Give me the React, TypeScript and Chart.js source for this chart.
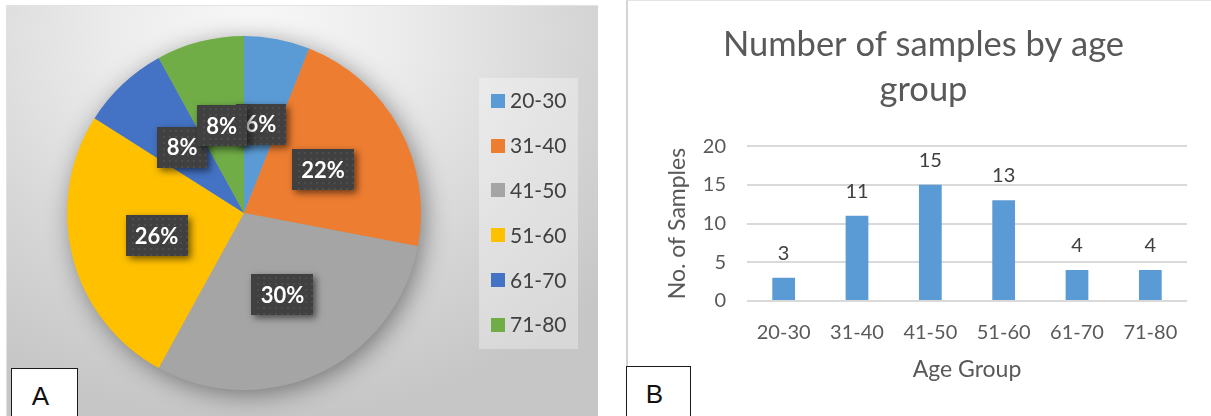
import React, { useEffect, useRef } from "react";
import { Chart, registerables } from "chart.js";

Chart.register(...registerables);

const categories = ["20-30", "31-40", "41-50", "51-60", "61-70", "71-80"];
const samples = [3, 11, 15, 13, 4, 4];
const sliceColors = ["#5B9BD5", "#ED7D31", "#A5A5A5", "#FFC000", "#4472C4", "#70AD47"];
const barColor = "#5B9BD5";
const yMin = 0;
const yMax = 20;
const yStep = 5;
const barTitle = ["Number of samples by age", "group"];
const xAxisTitle = "Age Group";
const yAxisTitle = "No. of Samples";
const panelLetters = ["A", "B"];

const FONT = "Lato, 'Open Sans', sans-serif";

const pieShadowAndLabels = {
  id: "pieShadowAndLabels",
  beforeDatasetsDraw(chart: any) {
    const meta = chart.getDatasetMeta(0);
    const arc = meta.data[0];
    if (!arc) return;
    const { x, y, outerRadius } = arc.getProps(["x", "y", "outerRadius"], true);
    const ctx = chart.ctx;
    ctx.save();
    ctx.shadowColor = "rgba(0,0,0,0.45)";
    ctx.shadowBlur = 26;
    ctx.shadowOffsetX = 4;
    ctx.shadowOffsetY = 5;
    ctx.beginPath();
    ctx.arc(x, y, outerRadius - 1, 0, Math.PI * 2);
    ctx.fillStyle = "#a0a0a0";
    ctx.fill();
    ctx.restore();
  },
  afterDatasetsDraw(chart: any) {
    const ctx = chart.ctx;
    const data = chart.data.datasets[0].data as number[];
    const total = data.reduce((a: number, b: number) => a + b, 0);
    const meta = chart.getDatasetMeta(0);
    ctx.save();
    ctx.font = `bold 22px ${FONT}`;
    meta.data.forEach((el: any, i: number) => {
      const { x, y, startAngle, endAngle, outerRadius } = el.getProps(
        ["x", "y", "startAngle", "endAngle", "outerRadius"],
        true
      );
      const mid = (startAngle + endAngle) / 2;
      const r = outerRadius * 0.51;
      const cx = x + Math.cos(mid) * r;
      const cy = y + Math.sin(mid) * r;
      const text = Math.round((data[i] / total) * 100) + "%";
      const w = Math.round(Math.max(ctx.measureText(text).width + 18, 50));
      const h = 41;
      const bx = Math.round(cx - w / 2);
      const by = Math.round(cy - h / 2);
      ctx.save();
      ctx.shadowColor = "rgba(0,0,0,0.55)";
      ctx.shadowBlur = 7;
      ctx.shadowOffsetX = 3;
      ctx.shadowOffsetY = 3;
      ctx.fillStyle = "#404040";
      ctx.fillRect(bx, by, w, h);
      ctx.restore();
      ctx.fillStyle = "rgba(255,255,255,0.07)";
      for (let yy = by + 3; yy < by + h; yy += 6) {
        for (let xx = bx + 3 + (((yy - by) / 6) % 2 ? 3 : 0); xx < bx + w; xx += 6) {
          ctx.fillRect(xx, yy, 2, 2);
        }
      }
      ctx.fillStyle = "#ffffff";
      ctx.textAlign = "center";
      ctx.textBaseline = "middle";
      ctx.fillText(text, cx, cy + 1);
    });
    ctx.restore();
  },
};

const pieLegend = {
  id: "pieLegend",
  afterDraw(chart: any) {
    const ctx = chart.ctx;
    const area = chart.chartArea;
    const left = area.right + 58;
    const top = 72;
    const labels = chart.data.labels as string[];
    const colors = chart.data.datasets[0].backgroundColor as string[];
    ctx.save();
    ctx.fillStyle = "rgba(255,255,255,0.32)";
    ctx.fillRect(left, top, 99, 271);
    ctx.font = `21px ${FONT}`;
    ctx.textBaseline = "middle";
    ctx.textAlign = "left";
    labels.forEach((lab, i) => {
      const cy = top + 22.7 + i * 44.8;
      ctx.fillStyle = colors[i];
      ctx.fillRect(left + 12, Math.round(cy - 7), 14, 14);
      ctx.fillStyle = "#404040";
      ctx.fillText(lab, left + 31, cy + 1);
    });
    ctx.restore();
  },
};

const barValueLabels = {
  id: "barValueLabels",
  afterDatasetsDraw(chart: any) {
    const ctx = chart.ctx;
    const meta = chart.getDatasetMeta(0);
    const data = chart.data.datasets[0].data as number[];
    ctx.save();
    ctx.font = `20px ${FONT}`;
    ctx.fillStyle = "#404040";
    ctx.textAlign = "center";
    ctx.textBaseline = "alphabetic";
    meta.data.forEach((bar: any, i: number) => {
      const { x, y } = bar.getProps(["x", "y"], true);
      ctx.fillText(String(data[i]), x, y - 18);
    });
    ctx.restore();
  },
};

function PieChart() {
  const ref = useRef<HTMLCanvasElement>(null);
  useEffect(() => {
    if (!ref.current) return;
    const chart = new Chart(ref.current, {
      type: "pie",
      data: {
        labels: categories,
        datasets: [
          {
            data: samples,
            backgroundColor: sliceColors,
            borderWidth: 0,
            hoverOffset: 0,
            offset: 0,
          },
        ],
      },
      options: {
        animation: false,
        responsive: false,
        events: [],
        layout: { padding: { left: 60, top: 30, right: 177, bottom: 26 } },
        plugins: {
          legend: { display: false },
          tooltip: { enabled: false },
        },
      },
      plugins: [pieShadowAndLabels, pieLegend],
    } as any);
    return () => chart.destroy();
  }, []);
  return <canvas ref={ref} width={591} height={410} style={{ display: "block" }} />;
}

function BarChart() {
  const ref = useRef<HTMLCanvasElement>(null);
  useEffect(() => {
    if (!ref.current) return;
    const chart = new Chart(ref.current, {
      type: "bar",
      data: {
        labels: categories,
        datasets: [
          {
            data: samples,
            backgroundColor: barColor,
            borderWidth: 0,
            barPercentage: 0.31,
            categoryPercentage: 1,
          },
        ],
      },
      options: {
        animation: false,
        responsive: false,
        events: [],
        layout: { padding: { left: 32, top: 4, right: 24, bottom: 30 } },
        plugins: {
          legend: { display: false },
          tooltip: { enabled: false },
          title: {
            display: true,
            text: barTitle,
            color: "#595959",
            font: { family: FONT, size: 34.5, weight: "normal", lineHeight: 1.32 },
            padding: { top: 17, bottom: 33 },
          },
        },
        scales: {
          x: {
            afterFit(scale: any) {
              scale.height = 86;
            },
            grid: { display: false, drawTicks: false },
            border: { display: false },
            ticks: { color: "#595959", font: { family: FONT, size: 20 }, padding: 20 },
            title: {
              display: true,
              text: xAxisTitle,
              color: "#595959",
              font: { family: FONT, size: 23 },
              padding: { top: 10, bottom: 4 },
            },
          },
          y: {
            min: yMin,
            max: yMax,
            afterFit(scale: any) {
              scale.width = 87;
            },
            grid: { color: "#d9d9d9", lineWidth: 2, drawTicks: false },
            border: { display: false },
            ticks: {
              stepSize: yStep,
              color: "#595959",
              font: { family: FONT, size: 20 },
              padding: 21,
            },
            title: {
              display: true,
              text: yAxisTitle,
              color: "#595959",
              font: { family: FONT, size: 23 },
              padding: { top: 4, bottom: 4 },
            },
          },
        },
      },
      plugins: [barValueLabels],
    } as any);
    return () => chart.destroy();
  }, []);
  return <canvas ref={ref} width={583} height={416} style={{ display: "block" }} />;
}

const letterBox: React.CSSProperties = {
  position: "absolute",
  background: "#ffffff",
  border: "1.5px solid #1a1a1a",
  boxSizing: "border-box",
  fontFamily: "'Liberation Sans', Arial, sans-serif",
  fontSize: 26,
  color: "#111",
  display: "flex",
  alignItems: "center",
  justifyContent: "center",
};

export default function App() {
  return (
    <div
      style={{
        position: "fixed",
        left: 0,
        top: 0,
        width: 1211,
        height: 416,
        background: "#ffffff",
        overflow: "hidden",
      }}
    >
      <div
        style={{
          position: "absolute",
          left: 6,
          top: 5,
          width: 592,
          height: 411,
          boxSizing: "border-box",
          borderTop: "1px solid #e2e2e2",
          borderLeft: "1px solid #e2e2e2",
          background:
            "radial-gradient(ellipse 80% 95% at 42% 6%, #f8f8f8 0%, #ececec 30%, #d6d6d6 68%, #c6c6c6 100%)",
        }}
      >
        <PieChart />
      </div>
      <div style={{ ...letterBox, left: 11, top: 368, width: 67, height: 56, paddingBottom: 0, paddingRight: 8 }}>
        {panelLetters[0]}
      </div>
      <div
        style={{
          position: "absolute",
          left: 626,
          top: 0,
          width: 585,
          height: 416,
          boxSizing: "border-box",
          borderLeft: "2px solid #d4d4d4",
          borderTop: "1px solid #e4e4e4",
          background: "#ffffff",
        }}
      >
        <BarChart />
      </div>
      <div style={{ ...letterBox, left: 626, top: 366, width: 65, height: 56, paddingBottom: 0, paddingRight: 8 }}>
        {panelLetters[1]}
      </div>
    </div>
  );
}
